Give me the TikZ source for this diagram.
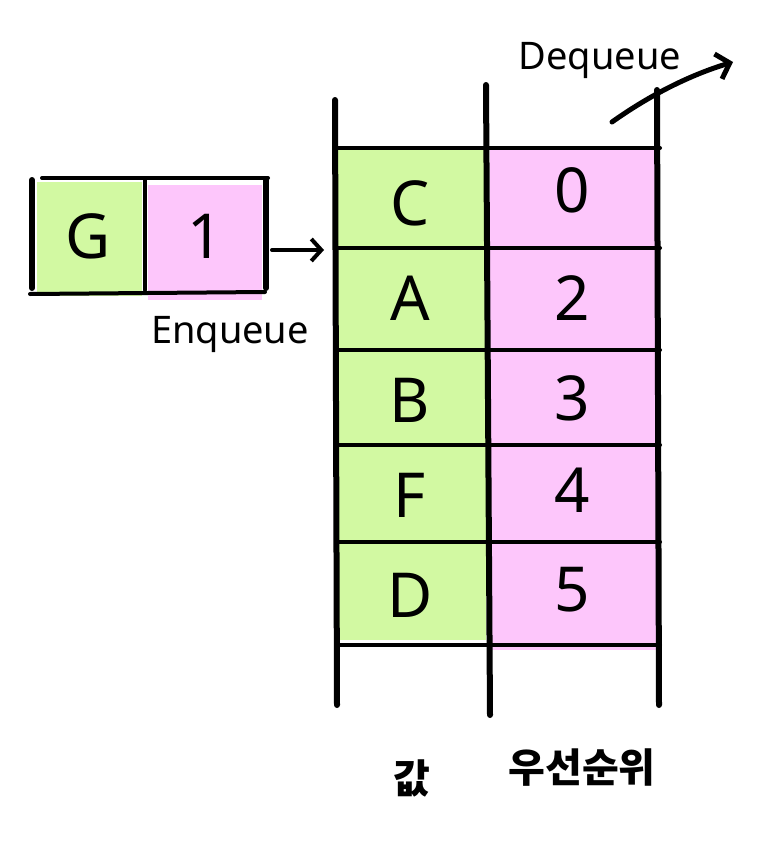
\documentclass[tikz,border=0pt]{standalone}
\usepackage{fontspec}
\setmainfont{Noto Sans}
\newfontfamily\kr{Noto Sans CJK KR}
\usetikzlibrary{arrows.meta}
\definecolor{lgreen}{HTML}{D2F9A2}
\definecolor{lpink}{HTML}{FDC6FB}
\tikzset{
  x=1pt, y=-1pt,
  thick line/.style={line width=6pt, line cap=round, black},
  thin line/.style={line width=4pt, line cap=round, black},
  big/.style={font=\fontsize{62}{64}\selectfont},
  lbl/.style={font=\fontsize{38}{40}\selectfont},
  krlbl/.style={font=\kr\bfseries\fontsize{40}{44}\selectfont},
}
\begin{document}
\begin{tikzpicture}
\useasboundingbox (0,0) rectangle (781,843);
% fills of the queue
\fill[lgreen] (338,150) rectangle (486,640);
\fill[lpink] (490,150) rectangle (657,650);
% cells (text)
\node[inner sep=0pt, big] (c1) at (410,203) {C};
\node[inner sep=0pt, big] (c2) at (410,298) {A};
\node[inner sep=0pt, big] (c3) at (410,400) {B};
\node[inner sep=0pt, big] (c4) at (410,495) {F};
\node[inner sep=0pt, big] (c5) at (410,595) {D};
\node[inner sep=0pt, big] (p1) at (572,190) {0};
\node[inner sep=0pt, big] (p2) at (572,298) {2};
\node[inner sep=0pt, big] (p3) at (572,398) {3};
\node[inner sep=0pt, big] (p4) at (572,490) {4};
\node[inner sep=0pt, big] (p5) at (572,590) {5};
% vertical lines
\coordinate (v1t) at (335,100); \coordinate (v1b) at (337,705);
\coordinate (v2t) at (486,85);  \coordinate (v2b) at (490,715);
\coordinate (v3t) at (657,90);  \coordinate (v3b) at (659,705);
\draw[thick line] (v1t) -- (v1b);
\draw[thick line] (v2t) -- (v2b);
\draw[thick line] (v3t) -- (v3b);
% horizontal dividers
\foreach \y in {148,248,350,445,542,645}{
  \draw[thin line] (337,\y) -- (660,\y);
}
% new element box
\fill[lgreen] (37,182) rectangle (142,296);
\fill[lpink] (148,185) rectangle (262,300);
\node[inner sep=0pt, big] (g) at (88,236) {G};
\node[inner sep=0pt, big] (one) at (205,236) {1};
\draw[thick line] (32,180) -- (32,288);
\draw[thin line] (42,178) -- (268,178);
\draw[thin line] (145,180) -- (145,290);
\draw[thick line] (266,180) -- (266,288);
\draw[thin line] (30,294) -- (265,292);
\coordinate (eL) at (272,250);
\coordinate (eR) at (324,250);
\draw[line width=4pt, line cap=round, -{Straight Barb[length=10pt,width=22pt,line width=4pt]}] (eL) -- (eR);
\node[lbl, inner sep=0pt] (enq) at (230,334) {Enqueue};
% dequeue
\node[lbl, inner sep=0pt] (deq) at (600,60) {Dequeue};
\coordinate (dS) at (612,122);
\coordinate (dE) at (733,62);
\draw[line width=5pt, line cap=round, -{Straight Barb[length=12pt,width=26pt,line width=5pt]}] (dS) .. controls (650,95) and (690,75) .. (dE);
% bottom labels
\node[krlbl, inner sep=0pt] (val) at (412,778) {값};
\node[krlbl, inner sep=0pt] (pri) at (582,768) {우선순위};
\end{tikzpicture}
\end{document}
